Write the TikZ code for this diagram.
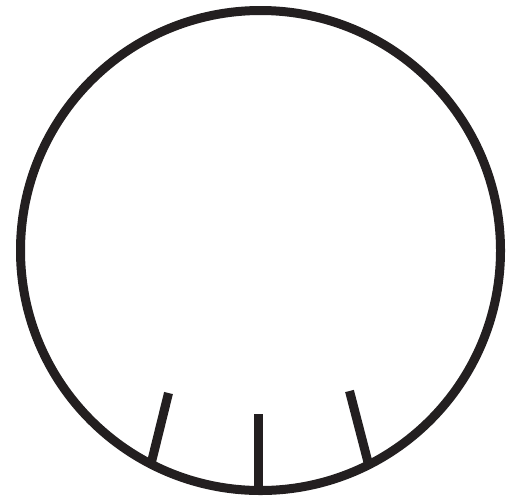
\documentclass[tikz,border=0pt]{standalone}
\definecolor{ink}{HTML}{231F20}
\begin{document}
\begin{tikzpicture}[x=1pt,y=-1pt,line width=9pt,
  rim/.style={draw=ink},
  tick/.style={draw=ink,line cap=butt}]
\useasboundingbox[fill=white] (0,0) rectangle (510,496);
\coordinate (c) at (260.5,250.5);
\draw[rim] (c) circle[radius=240];
\coordinate (lt) at (168.5,393);
\coordinate (lb) at (150.5,466);
\coordinate (mt) at (258,414);
\coordinate (mb) at (258,490);
\coordinate (rt) at (349.5,391);
\coordinate (rb) at (369,466);
\draw[tick] (lt) -- (lb);
\draw[tick] (mt) -- (mb);
\draw[tick] (rt) -- (rb);
\end{tikzpicture}
\end{document}
